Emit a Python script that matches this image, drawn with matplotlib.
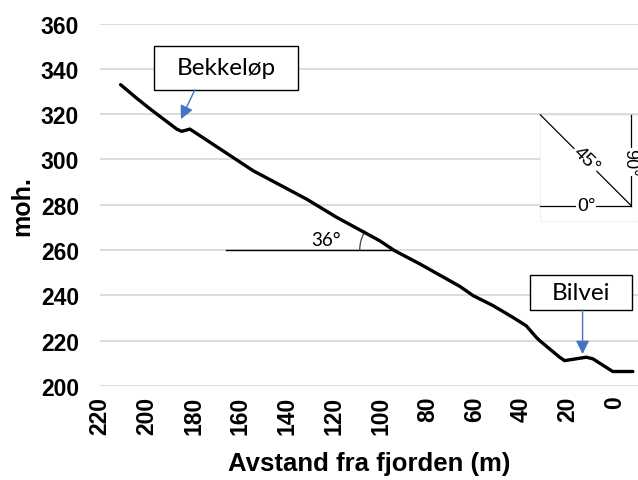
import matplotlib
matplotlib.use("Agg")
import matplotlib.pyplot as plt
import numpy as np

# terrain profile
dist = [211.2, 204.3, 198.6, 187.2, 185.1, 181.6, 177.3, 154.5, 131.7, 118.9,
        100.4, 94.0, 83.3, 66.2, 60.5, 52.0, 43.5, 37.8, 33.5, 32.0,
        23.5, 21.4, 12.1, 9.3, 0.8, -7.8]
height = [333.0, 327.0, 322.3, 313.4, 312.4, 313.4, 310.5, 295.0, 282.5, 274.5,
          264.1, 259.7, 253.9, 244.0, 239.9, 235.5, 230.3, 226.6, 221.5, 220.0,
          212.7, 211.2, 212.7, 212.0, 206.4, 206.4]
xticks = list(range(0, 221, 20))
yticks = list(range(200, 361, 20))

fig = plt.figure(figsize=(6.38, 4.81), dpi=100)
ax = fig.add_axes([100/638, 1-387/481, 538/638, 362.5/481])
ax.set_xlim(220, -10)
ax.set_ylim(200, 360)
ax.set_xticks(xticks)
ax.set_yticks(yticks)
for s in ax.spines.values():
    s.set_visible(False)
ax.grid(axis="y", color="#D9D9D9", lw=1.3)
ax.set_axisbelow(True)
ax.tick_params(length=0)
ax.tick_params(axis="y", pad=15)
ax.tick_params(axis="x", pad=7)
for lab in ax.get_yticklabels() + ax.get_xticklabels():
    lab.set_fontfamily("Liberation Sans")
    lab.set_fontweight("bold")
    lab.set_fontsize(16.5)
for lab in ax.get_xticklabels():
    lab.set_rotation(90)
ax.set_xlabel("Avstand fra fjorden (m)", fontfamily="Liberation Sans", fontweight="bold", fontsize=18.5, labelpad=12)
ax.set_ylabel("moh.", fontfamily="Liberation Sans", fontweight="bold", fontsize=18, labelpad=5)

ax.plot(dist, height, color="black", lw=2.4, solid_capstyle="round", solid_joinstyle="round", zorder=3)

# angle reference diagram (white patch over the gridlines)
ax.add_patch(plt.Rectangle((0.818, 0.455), 0.182, 0.293, transform=ax.transAxes,
                           facecolor="white", edgecolor="#F2F2F2", lw=0.8, zorder=1.5))
ax.plot([31.75, -7.1], [319.7, 279.6], color="black", lw=0.9, zorder=2)
ax.plot([-7.1, -7.1], [319.7, 279.6], color="black", lw=0.9, zorder=2)
ax.plot([31.75, -7.1], [279.6, 279.6], color="black", lw=0.9, zorder=2)
ax.text(12.1, 279.6, "0°", ha="center", va="center", fontsize=14, fontfamily="Liberation Sans",
        bbox=dict(facecolor="white", edgecolor="none", pad=0.5), zorder=2.5)
ax.text(12.1, 300.2, "45°", ha="center", va="center", fontsize=14, fontfamily="Liberation Sans",
        rotation=-45, bbox=dict(facecolor="white", edgecolor="none", pad=0.5), zorder=2.5)
ax.text(-6.3, 299.0, "90°", ha="center", va="center", fontsize=13, fontfamily="Liberation Sans",
        rotation=-90, bbox=dict(facecolor="white", edgecolor="none", pad=0.3), zorder=2.5)

# 36 degree marker
ax.plot([166.2, 94.0], [260, 260], color="black", lw=1.0, zorder=2)
fig.canvas.draw()
cx, cy = ax.transData.transform((94.0, 260))
ang = np.radians(np.linspace(148, 180, 20))
arc = ax.transData.inverted().transform(np.column_stack([cx + 35*np.cos(ang), cy + 35*np.sin(ang)]))
ax.plot(arc[:, 0], arc[:, 1], color="#404040", lw=0.9, zorder=2)
ax.text(123.5, 264.6, "36°", ha="center", va="center", fontsize=13.5, fontfamily="Lato")

# callouts
blue = "#4472C4"
ax.add_patch(plt.Rectangle((135.3, 330.8), 61.6, 19.4, facecolor="white", edgecolor="black", lw=1.0, zorder=4))
ax.text(166.1, 340.5, "Bekkeløp", ha="center", va="center", fontsize=17.5, fontfamily="Lato", zorder=5)
ax.annotate("", xy=(185.4, 317.8), xytext=(179.4, 330.8),
            arrowprops=dict(arrowstyle="-|>,head_length=0.8,head_width=0.4", color=blue, lw=1.0,
                            shrinkA=0, shrinkB=0), zorder=4)
ax.add_patch(plt.Rectangle((-7.5, 233.5), 43.8, 15.5, facecolor="white", edgecolor="black", lw=1.0, zorder=4))
ax.text(14.4, 241.3, "Bilvei", ha="center", va="center", fontsize=17.5, fontfamily="Lato", zorder=5)
ax.annotate("", xy=(13.7, 214.1), xytext=(13.7, 233.5),
            arrowprops=dict(arrowstyle="-|>,head_length=0.8,head_width=0.4", color=blue, lw=1.0,
                            shrinkA=0, shrinkB=0), zorder=4)

fig.savefig("out.png", dpi=100)
